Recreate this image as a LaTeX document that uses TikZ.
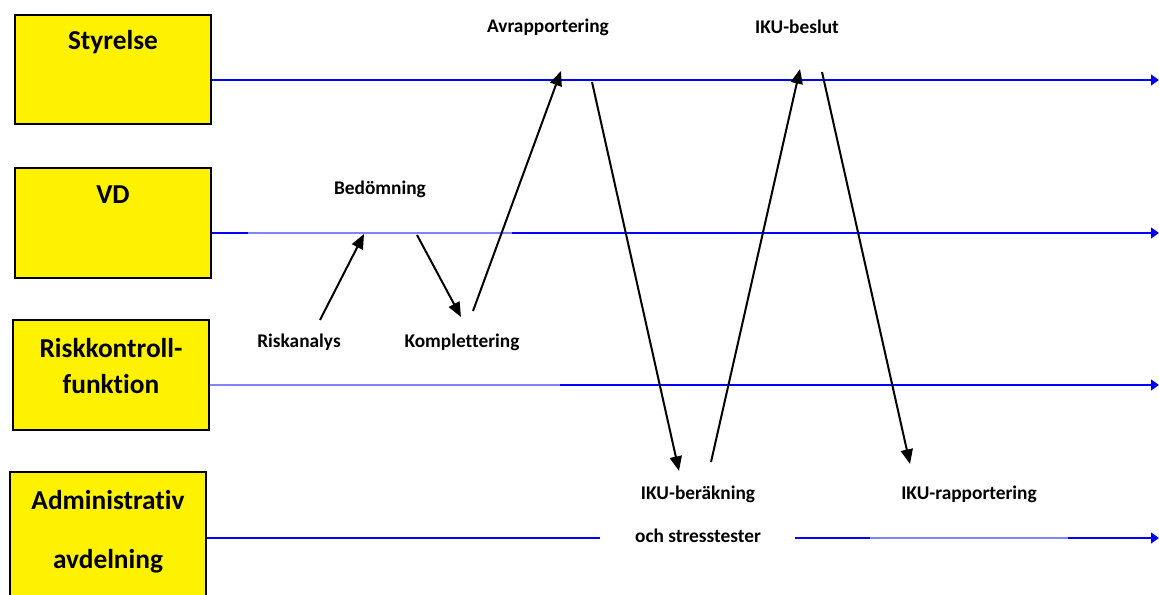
\documentclass[tikz,border=0pt]{standalone}
\usepackage{fontspec}
\setmainfont{Carlito}[Ligatures=NoCommon]
\usetikzlibrary{arrows.meta, positioning}
\tikzstyle{unit} = [rectangle, minimum width=147pt, minimum height=82pt, draw=black, line width=1.5pt, fill=yellow]
\tikzstyle{unittext} = [font=\bfseries\fontsize{20.5}{24}\selectfont, inner sep=0pt]
\tikzstyle{stage} = [font=\bfseries\fontsize{14.5}{17}\selectfont, inner sep=0pt]
\tikzstyle{lane} = [line width=2pt, draw={rgb,255:red,0;green,0;blue,255}]
\tikzstyle{lanearrow} = [lane, -{Triangle[length=6pt,width=8pt]}]
\tikzstyle{faint} = [line width=1.1pt, draw={rgb,255:red,130;green,130;blue,255}]
\tikzstyle{arrow} = [line width=1.5pt, -{Triangle[length=11pt,width=9pt]}]

\begin{document}
\begin{tikzpicture}[x=0.75pt, y=-0.75pt]
\useasboundingbox (0,0) rectangle (1159,595);

%units
\node (sty) [unit] at (113,69.5) {};
\node (vd) [unit] at (113,223) {};
\node (rk) [unit] at (111,375) {};
\node (adm) [unit, minimum height=104pt] at (108,541) {};
\node [unittext] at (113,42) {Styrelse};
\node [unittext] at (113,195) {VD};
\node [unittext] at (111,348) {Riskkontroll-};
\node [unittext] at (111,384) {funktion};
\node [unittext] at (108,500) {Administrativ};
\node [unittext] at (108,561) {avdelning};

%lane ends
\coordinate (styE) at (1159,80);
\coordinate (vdE) at (1159,233);
\coordinate (rkE) at (1159,385);
\coordinate (admE) at (1159,538);

%lanes
\draw [lanearrow] (sty.east |- styE) -- (styE);
\draw [lane] (vd.east |- vdE) -- (248,233);
\draw [faint] (248,233) -- (512,233);
\draw [lanearrow] (512,233) -- (vdE);
\draw [faint] (rk.east |- rkE) -- (560,385);
\draw [lanearrow] (560,385) -- (rkE);
\draw [lane] (adm.east |- admE) -- (600,538);
\draw [lane] (795,538) -- (870,538);
\draw [faint] (870,538) -- (1068,538);
\draw [lanearrow] (1068,538) -- (admE);

%stages
\node (avr) [stage] at (548,27) {Avrapportering};
\node (beslut) [stage] at (797,27) {IKU-beslut};
\node (bed) [stage] at (380,189) {Bedömning};
\node (ris) [stage] at (299,342) {Riskanalys};
\node (kompl) [stage] at (462,342) {Komplettering};
\node (ber) [stage] at (698,494) {IKU-beräkning};
\node (stress) [stage] at (698,536) {och stresstester};
\node (rap) [stage] at (969,494) {IKU-rapportering};

%arrow ends
\coordinate (a1) at (320,320);
\coordinate (a2) at (364,234);
\coordinate (b1) at (417,235);
\coordinate (b2) at (461,317);
\coordinate (c1) at (473,311);
\coordinate (c2) at (561,71);
\coordinate (d1) at (592,82);
\coordinate (d2) at (679,471);
\coordinate (e1) at (711,462);
\coordinate (e2) at (800,69);
\coordinate (f1) at (822,72);
\coordinate (f2) at (910,464);

%arrows
\draw [arrow] (a1) -- (a2);
\draw [arrow] (b1) -- (b2);
\draw [arrow] (c1) -- (c2);
\draw [arrow] (d1) -- (d2);
\draw [arrow] (e1) -- (e2);
\draw [arrow] (f1) -- (f2);

\end{tikzpicture}
\end{document}
